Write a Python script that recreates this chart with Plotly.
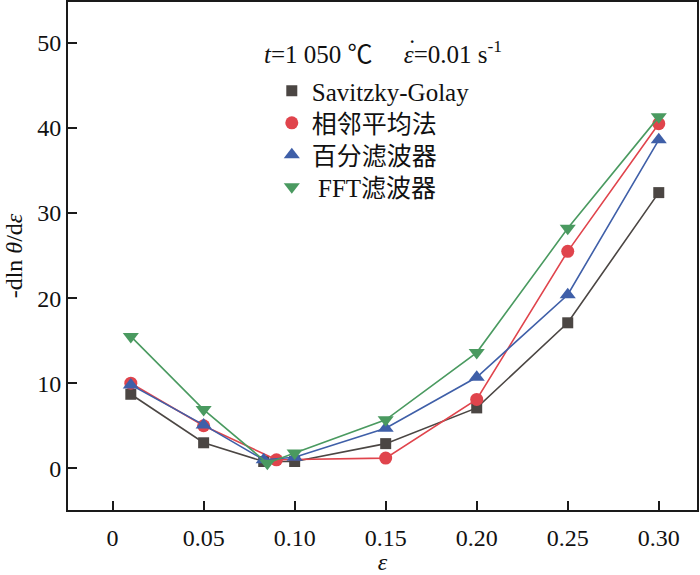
import plotly.graph_objects as go

# strain values per method (the cluster near 0.08-0.10 differs slightly per series)
x_sg = [0.01, 0.05, 0.083, 0.10, 0.15, 0.20, 0.25, 0.30]
y_sg = [8.7, 3.0, 0.8, 0.8, 2.9, 7.1, 17.1, 32.4]

x_adj = [0.01, 0.05, 0.09, 0.15, 0.20, 0.25, 0.30]
y_adj = [10.0, 5.0, 1.0, 1.2, 8.1, 25.5, 40.5]

x_pct = [0.01, 0.05, 0.083, 0.10, 0.15, 0.20, 0.25, 0.30]
y_pct = [9.8, 5.1, 1.0, 1.3, 4.7, 10.7, 20.4, 38.6]

x_fft = [0.01, 0.05, 0.085, 0.10, 0.15, 0.20, 0.25, 0.30]
y_fft = [15.5, 6.9, 0.6, 1.8, 5.7, 13.6, 28.2, 41.3]

names = ["Savitzky-Golay", "相邻平均法", "百分滤波器", " FFT滤波器"]
x_ticks = [0, 0.05, 0.10, 0.15, 0.20, 0.25, 0.30]
x_tick_text = ["0", "0.05", "0.10", "0.15", "0.20", "0.25", "0.30"]
y_ticks = [0, 10, 20, 30, 40, 50]

FONT = "Liberation Serif, Times New Roman, Noto Sans CJK SC, serif"

series = [
    (x_sg, y_sg, "#4b4643", "square", 11),
    (x_adj, y_adj, "#e0444c", "circle", 13),
    (x_pct, y_pct, "#3f5fa8", "triangle-up", 14),
    (x_fft, y_fft, "#4a9a60", "triangle-down", 14),
]

fig = go.Figure()
for (xs, ys, color, sym, size), name in zip(series, names):
    fig.add_trace(go.Scatter(
        x=xs, y=ys, mode="lines+markers", showlegend=False,
        line=dict(color=color, width=1.6),
        marker=dict(symbol=sym, size=size, color=color),
    ))

# legend shows markers only; one legend per row so the row spacing matches
legend_ids = ["legend", "legend2", "legend3", "legend4"]
legend_tops = [0.870, 0.807, 0.744, 0.681]
for (xs, ys, color, sym, size), name, lid in zip(series, names, legend_ids):
    fig.add_trace(go.Scatter(
        x=[None], y=[None], mode="markers", name=name, legend=lid,
        marker=dict(symbol=sym, size=size, color=color),
    ))

fig.add_annotation(
    x=0.082, y=48.9, xref="x", yref="y", showarrow=False, xanchor="left",
    text="<i>t</i>=1 050 ℃     <i>ε</i>=0.01 s<sup>-1</sup>",
    font=dict(family=FONT, size=25, color="#111"),
)
# dot over the strain-rate epsilon
fig.add_annotation(
    x=0.1645, y=49.3, xref="x", yref="y", showarrow=False,
    text="˙", font=dict(family=FONT, size=25, color="#111"),
)

axis_common = dict(
    showline=True, linecolor="#1a1a1a", linewidth=1.8, mirror=True,
    ticks="inside", ticklen=9, tickwidth=1.5, tickcolor="#1a1a1a",
    showgrid=False, zeroline=False, automargin=False,
    tickfont=dict(family=FONT, size=24, color="#111"),
)

fig.update_xaxes(
    range=[-0.0245, 0.321], tickvals=x_ticks, ticktext=x_tick_text,
    title=dict(text="<i>ε</i>", font=dict(family=FONT, size=24, color="#111"), standoff=0),
    ticklabelstandoff=5,
    **axis_common,
)
fig.update_yaxes(
    range=[-4.9, 54.8], tickvals=y_ticks,
    title=dict(text="-dln <i>θ</i>/d<i>ε</i>", font=dict(family=FONT, size=24, color="#111"), standoff=8),
    **axis_common,
)

fig.update_layout(
    width=700, height=575,
    margin=dict(l=68, r=3, t=2, b=65),
    plot_bgcolor="white", paper_bgcolor="white",
)
for lid, top in zip(legend_ids, legend_tops):
    fig.update_layout({lid: dict(
        x=0.324, y=top, xanchor="left", yanchor="top",
        font=dict(family=FONT, size=25, color="#111"),
        bgcolor="rgba(0,0,0,0)",
    )})

fig.write_html(
    "out.html",
    config={"displayModeBar": False},
    post_script="document.body.style.margin='0';",
)
